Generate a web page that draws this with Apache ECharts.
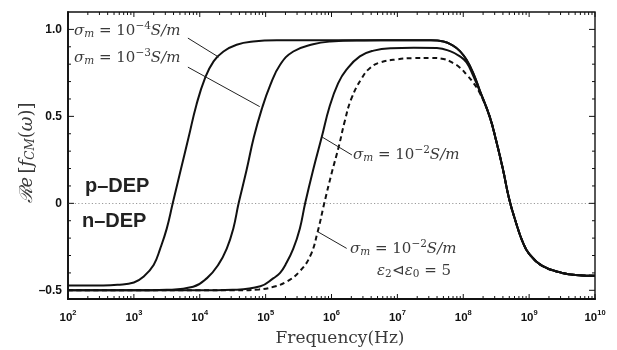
<!DOCTYPE html>
<html>
<head>
<meta charset="utf-8">
<script src="https://cdn.jsdelivr.net/npm/echarts@6/dist/echarts.min.js"></script>
<style>
  html, body { margin: 0; background: #fff; }
  #chart { width: 617px; height: 350px; }
</style>
</head>
<body>
<div id="chart"></div>
<script>
// x values are log10(frequency / Hz)
const decades = [2, 3, 4, 5, 6, 7, 8, 9, 10];
const yLabelValues = [-0.5, 0, 0.5, 1.0];

// sigma_m = 1e-4 S/m
const logFreqA = [2.0, 2.5, 2.75, 3.0, 3.15, 3.3, 3.4, 3.5, 3.59, 3.71, 3.83, 3.95, 4.08, 4.21, 4.36, 4.56, 4.81, 5.2, 6.0, 7.0,
  7.5, 7.7, 7.85, 7.95, 8.05, 8.15, 8.25, 8.4, 8.5, 8.6, 8.7, 8.8, 8.9, 9.0, 9.2, 9.5, 9.75, 10.0];
const reA = [-0.473, -0.472, -0.468, -0.455, -0.42, -0.354, -0.26, -0.144, 0.0, 0.19, 0.378, 0.567, 0.72, 0.816, 0.873, 0.912, 0.93, 0.937, 0.938, 0.938,
  0.937, 0.93, 0.905, 0.875, 0.825, 0.75, 0.65, 0.5, 0.36, 0.2, 0.02, -0.11, -0.22, -0.29, -0.36, -0.4, -0.413, -0.416];

// sigma_m = 1e-3 S/m
const logFreqB = [2.0, 3.0, 3.5, 3.9, 4.11, 4.28, 4.41, 4.51, 4.59, 4.71, 4.82, 4.94, 5.07, 5.22, 5.42, 5.72, 5.98, 6.5, 7.0,
  7.5, 7.7, 7.85, 7.95, 8.05, 8.15, 8.25, 8.4, 8.5, 8.6, 8.7, 8.8, 8.9, 9.0, 9.2, 9.5, 9.75, 10.0];
const reB = [-0.5, -0.5, -0.497, -0.48, -0.43, -0.354, -0.26, -0.144, 0.0, 0.19, 0.378, 0.54, 0.68, 0.797, 0.873, 0.915, 0.93, 0.936, 0.937,
  0.937, 0.93, 0.905, 0.875, 0.825, 0.75, 0.65, 0.5, 0.36, 0.2, 0.02, -0.11, -0.22, -0.29, -0.36, -0.4, -0.413, -0.416];

// sigma_m = 1e-2 S/m
const logFreqC = [2.0, 3.0, 4.0, 4.5, 4.92, 5.12, 5.22, 5.3, 5.42, 5.52, 5.6, 5.72, 5.85, 5.97, 6.1, 6.23, 6.43, 6.64, 6.9, 7.25,
  7.6, 7.8, 7.95, 8.05, 8.15, 8.25, 8.4, 8.5, 8.6, 8.7, 8.8, 8.9, 9.0, 9.2, 9.5, 9.75, 10.0];
const reC = [-0.5, -0.5, -0.5, -0.497, -0.477, -0.43, -0.4, -0.354, -0.26, -0.144, 0.0, 0.19, 0.378, 0.555, 0.69, 0.77, 0.845, 0.878, 0.892, 0.895,
  0.893, 0.875, 0.845, 0.81, 0.735, 0.645, 0.5, 0.36, 0.2, 0.02, -0.11, -0.22, -0.29, -0.36, -0.4, -0.413, -0.416];

// sigma_m = 1e-2 S/m, eps2/eps0 = 5 (dashed)
const logFreqD = [2.0, 3.0, 4.0, 4.5, 4.9, 5.12, 5.32, 5.52, 5.68, 5.79, 5.89, 6.0, 6.11, 6.2, 6.3, 6.46, 6.59, 6.74, 7.0, 7.25,
  7.5, 7.7, 7.85, 7.95, 8.05, 8.15, 8.25, 8.4, 8.5, 8.6, 8.7, 8.8, 8.9, 9.0, 9.2, 9.5, 9.75, 10.0];
const reD = [-0.5, -0.5, -0.5, -0.5, -0.495, -0.48, -0.45, -0.39, -0.3, -0.163, 0.0, 0.17, 0.326, 0.47, 0.6, 0.72, 0.78, 0.81, 0.828, 0.835,
  0.836, 0.83, 0.805, 0.78, 0.74, 0.695, 0.635, 0.5, 0.36, 0.2, 0.02, -0.11, -0.22, -0.29, -0.36, -0.4, -0.413, -0.416];

// leader lines from labels to curves, in data coords [log10 f, value]
const leaders = [
  [[3.82, 0.95], [4.29, 0.84]],
  [[3.82, 0.783], [4.91, 0.556]],
  [[5.85, 0.383], [6.31, 0.278]],
  [[5.79, -0.163], [6.23, -0.259]],
];

const SANS = '"Liberation Sans", Arial, sans-serif';
const SERIF = '"DejaVu Serif", serif';
const INK = "#111";
const GREY_TEXT = "#3a3a3a";

// minor log ticks 2..9 inside each decade
const minorTicks = [];
for (let n = 2; n < 10; n++) {
  for (let k = 2; k < 10; k++) minorTicks.push(n + Math.log10(k));
}
const yTicks = [];
for (let i = -5; i <= 10; i++) yTicks.push(i / 10);

const tickData = [
  ...decades.map((v) => [0, v, 5]),
  ...minorTicks.map((v) => [0, v, 3]),
  ...yTicks.map((v) => [1, v, Math.abs(v * 2 - Math.round(v * 2)) < 1e-6 ? 6 : 3]),
];

function renderTick(params, api) {
  const cs = params.coordSys;
  const dir = api.value(0);
  const val = api.value(1);
  const len = api.value(2);
  const style = { stroke: INK, lineWidth: 1 };
  if (dir === 0) {
    const x = api.coord([val, 0])[0];
    const b = cs.y + cs.height;
    return {
      type: "group",
      children: [
        { type: "line", shape: { x1: x, y1: b, x2: x, y2: b - len }, style },
        { type: "line", shape: { x1: x, y1: cs.y, x2: x, y2: cs.y + len }, style },
      ],
    };
  }
  const y = api.coord([2, val])[1];
  const r = cs.x + cs.width;
  return {
    type: "group",
    children: [
      { type: "line", shape: { x1: cs.x, y1: y, x2: cs.x + len, y2: y }, style },
      { type: "line", shape: { x1: r, y1: y, x2: r - len, y2: y }, style },
    ],
  };
}

function curve(name, xs, ys, dashed) {
  return {
    name,
    type: "line",
    data: xs.map((x, i) => [x, ys[i]]),
    showSymbol: false,
    smooth: 0.45,
    lineStyle: { color: INK, width: 2, type: dashed ? [5, 3.5] : "solid" },
    z: 4,
    silent: true,
  };
}

const mathRich = {
  i: { fontFamily: SERIF, fontStyle: "italic", fontSize: 15, fill: GREY_TEXT },
  r: { fontFamily: SERIF, fontSize: 15, fill: GREY_TEXT },
  sub: { fontFamily: SERIF, fontStyle: "italic", fontSize: 10.5, fill: GREY_TEXT, padding: [7, 0, 0, 0] },
  subr: { fontFamily: SERIF, fontSize: 10.5, fill: GREY_TEXT, padding: [7, 0, 0, 0] },
  sup: { fontFamily: SERIF, fontSize: 10.5, fill: GREY_TEXT, padding: [0, 0, 10, 0] },
};

function mathText(x, y, text) {
  return {
    type: "text",
    x,
    y,
    style: { text, rich: mathRich, verticalAlign: "middle", align: "left", fill: GREY_TEXT },
    silent: true,
  };
}

const sigmaLabel = (exp) => `{i|σ}{sub|m}{r| = 10}{sup|−${exp}}{i|S/m}`;

const titleRich = {
  cal: { fontFamily: SERIF, fontStyle: "italic", fontSize: 18, fill: GREY_TEXT },
  i: { fontFamily: SERIF, fontStyle: "italic", fontSize: 18, fill: GREY_TEXT },
  r: { fontFamily: SERIF, fontSize: 18, fill: GREY_TEXT },
  sub: { fontFamily: SERIF, fontStyle: "italic", fontSize: 12, fill: GREY_TEXT, padding: [8, 0, 0, 0] },
};

const chart = echarts.init(document.getElementById("chart"), null, { renderer: "canvas" });

chart.setOption({
  animation: false,
  backgroundColor: "#fff",
  grid: {
    left: 68,
    right: 22,
    top: 12,
    bottom: 51,
    show: true,
    borderColor: INK,
    borderWidth: 1.4,
  },
  xAxis: {
    type: "value",
    min: 2,
    max: 10,
    interval: 1,
    axisLine: { show: true, onZero: false, lineStyle: { color: INK, width: 2.2 } },
    axisTick: { show: false },
    splitLine: { show: false },
    axisLabel: {
      margin: 10,
      formatter: (v) => `{b|10}{s|${v}}`,
      rich: {
        b: { fontFamily: SANS, fontWeight: "bold", fontSize: 11.5, color: INK },
        s: { fontFamily: SANS, fontWeight: "bold", fontSize: 7.5, color: INK, padding: [0, 0, 9, 0] },
      },
    },
  },
  yAxis: {
    type: "value",
    min: -0.55,
    max: 1.1,
    interval: 0.05,
    axisLine: { show: true, onZero: false, lineStyle: { color: INK, width: 1.8 } },
    axisTick: { show: false },
    splitLine: { show: false },
    axisLabel: {
      margin: 6,
      fontFamily: SANS,
      fontWeight: "bold",
      fontSize: 12,
      color: INK,
      formatter: (v) => {
        const hit = yLabelValues.find((t) => Math.abs(t - v) < 1e-6);
        if (hit === undefined) return "";
        if (hit === 0) return "0";
        return hit.toFixed(1).replace("-", "–");
      },
    },
  },
  series: [
    {
      type: "custom",
      renderItem: renderTick,
      data: tickData,
      silent: true,
      z: 5,
    },
    {
      ...curve("sigma 1e-4", logFreqA, reA, false),
      markLine: {
        silent: true,
        symbol: "none",
        label: { show: false },
        lineStyle: { type: [1.2, 2.2], color: "#9a9a9a", width: 1 },
        data: [{ yAxis: 0 }],
        z: 1,
      },
    },
    {
      ...curve("sigma 1e-3", logFreqB, reB, false),
      markLine: {
        silent: true,
        symbol: "none",
        label: { show: false },
        lineStyle: { type: "solid", color: "#222", width: 1 },
        data: leaders.map(([a, b]) => [{ coord: a }, { coord: b }]),
      },
    },
    curve("sigma 1e-2", logFreqC, reC, false),
    curve("sigma 1e-2 eps", logFreqD, reD, true),
  ],
  graphic: [
    mathText(74, 31, sigmaLabel(4)),
    mathText(74, 58, sigmaLabel(3)),
    mathText(353, 155, sigmaLabel(2)),
    mathText(350, 249, sigmaLabel(2)),
    mathText(377, 271, "{i|ε}{subr|2}{r|⊲}{i|ε}{subr|0}{r| = 5}"),
    {
      type: "text",
      x: 85,
      y: 186,
      style: { text: "p–DEP", font: `bold 20px ${SANS}`, fill: "#222", verticalAlign: "middle" },
      silent: true,
    },
    {
      type: "text",
      x: 82,
      y: 221,
      style: { text: "n–DEP", font: `bold 20px ${SANS}`, fill: "#222", verticalAlign: "middle" },
      silent: true,
    },
    {
      type: "text",
      x: 340,
      y: 339,
      style: { text: "Frequency(Hz)", font: `17px ${SERIF}`, fill: GREY_TEXT, align: "center", verticalAlign: "middle" },
      silent: true,
    },
    {
      type: "text",
      x: 27,
      y: 153,
      rotation: Math.PI / 2,
      style: {
        text: "{cal|ℛ}{i|e} {r|[}{i|f}{sub|CM}{r|(}{i|ω}{r|)]}",
        rich: titleRich,
        align: "center",
        verticalAlign: "middle",
      },
      silent: true,
    },
  ],
});
</script>
</body>
</html>
